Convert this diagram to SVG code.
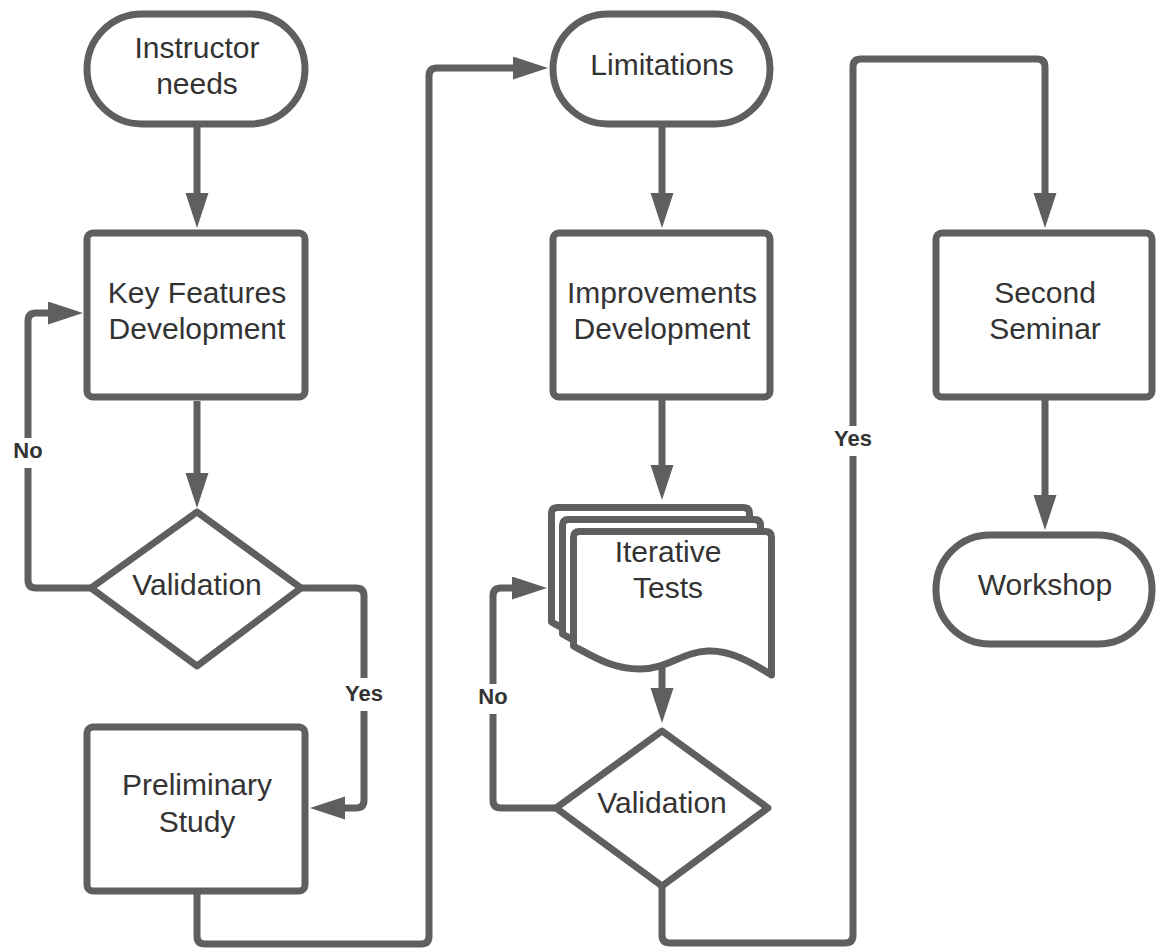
<svg xmlns="http://www.w3.org/2000/svg" width="1156" height="952" viewBox="0 0 1156 952">
<style>
.shape{fill:#ffffff;stroke:#5f5f5f;stroke-width:7;stroke-linejoin:round}
.conn{fill:none;stroke:#5f5f5f;stroke-width:7}
.t{font-family:"Liberation Sans",Arial,sans-serif;font-size:30px;fill:#333333;text-anchor:middle}
.lbl{font-family:"Liberation Sans",Arial,sans-serif;font-size:22px;font-weight:bold;fill:#333333;text-anchor:middle}
.bg{fill:#ffffff}
</style>
<defs>
<marker id="ah" markerUnits="userSpaceOnUse" markerWidth="36" markerHeight="24" refX="5" refY="11.5" orient="auto">
<path d="M0,0 L35,11.5 L0,23 Z" fill="#5f5f5f"/>
</marker>
<path id="doc" d="M0,6 Q0,0 6,0 H192 Q198,0 198,6 V143.5 C174.5,128.5 154.5,118.5 134.5,119.5 C108.5,120.5 94.5,137.5 66.5,137.5 C38.5,137.5 18.5,124.5 0,114.5 Z"/>
</defs>
<rect width="1156" height="952" fill="#ffffff"/>
<g id="connectors">
<path class="conn" marker-end="url(#ah)" d="M197,127 V198"/>
<path class="conn" marker-end="url(#ah)" d="M197,401 V478"/>
<path class="conn" marker-end="url(#ah)" d="M91,588 H36 Q28,588 28,580 V321 Q28,313 36,313 H53"/>
<path class="conn" marker-end="url(#ah)" d="M300,588 H356 Q364,588 364,596 V800 Q364,808 356,808 H340"/>
<path class="conn" marker-end="url(#ah)" d="M197,891 V936 Q197,944 205,944 H421 Q429,944 429,936 V76 Q429,68 437,68 H518"/>
<path class="conn" marker-end="url(#ah)" d="M662,124 V198"/>
<path class="conn" marker-end="url(#ah)" d="M662,397 V470"/>
<path class="conn" marker-end="url(#ah)" d="M662,666 V693"/>
<path class="conn" marker-end="url(#ah)" d="M556,808 H501 Q493,808 493,800 V596 Q493,588 501,588 H517"/>
<path class="conn" marker-end="url(#ah)" d="M662,886 V935 Q662,943 670,943 H845 Q853,943 853,935 V67 Q853,59 861,59 H1037 Q1045,59 1045,67 V198"/>
<path class="conn" marker-end="url(#ah)" d="M1045,397 V500"/>
<rect class="bg" x="10" y="438" width="36" height="30"/>
<text class="lbl" x="28" y="458">No</text>
<rect class="bg" x="342" y="678" width="44" height="33"/>
<text class="lbl" x="364" y="701">Yes</text>
<rect class="bg" x="475" y="684" width="36" height="30"/>
<text class="lbl" x="493" y="704">No</text>
<rect class="bg" x="831" y="426" width="44" height="30"/>
<text class="lbl" x="853" y="446">Yes</text>
</g>
<g id="instructor-needs">
<rect class="shape" x="87" y="14" width="218" height="110" rx="55"/>
<text class="t" x="197" y="58">Instructor</text>
<text class="t" x="197" y="94">needs</text>
</g>
<g id="key-features">
<rect class="shape" x="87" y="233" width="218" height="164" rx="6"/>
<text class="t" x="197" y="303">Key Features</text>
<text class="t" x="197" y="339">Development</text>
</g>
<g id="validation-1">
<path class="shape" d="M197,512 L301,588 L197,666 L91,588 Z"/>
<text class="t" x="197" y="595">Validation</text>
</g>
<g id="preliminary-study">
<rect class="shape" x="87" y="727" width="218" height="164" rx="6"/>
<text class="t" x="197" y="795">Preliminary</text>
<text class="t" x="197" y="832">Study</text>
</g>
<g id="limitations">
<rect class="shape" x="553" y="14" width="217" height="110" rx="55"/>
<text class="t" x="662" y="75">Limitations</text>
</g>
<g id="improvements">
<rect class="shape" x="553" y="233" width="217" height="164" rx="6"/>
<text class="t" x="662" y="303">Improvements</text>
<text class="t" x="662" y="339">Development</text>
</g>
<g id="iterative-tests">
<use href="#doc" class="shape" transform="translate(551.5,507.5)"/>
<use href="#doc" class="shape" transform="translate(562.5,519.5)"/>
<use href="#doc" class="shape" transform="translate(573.5,531.5)"/>
<text class="t" x="668" y="562">Iterative</text>
<text class="t" x="668" y="598">Tests</text>
</g>
<g id="validation-2">
<path class="shape" d="M662,731 L768,808 L662,886 L556,808 Z"/>
<text class="t" x="662" y="813">Validation</text>
</g>
<g id="second-seminar">
<rect class="shape" x="936" y="233" width="216" height="164" rx="6"/>
<text class="t" x="1045" y="303">Second</text>
<text class="t" x="1045" y="339">Seminar</text>
</g>
<g id="workshop">
<rect class="shape" x="936" y="535" width="216" height="109" rx="54"/>
<text class="t" x="1045" y="595">Workshop</text>
</g>
</svg>
